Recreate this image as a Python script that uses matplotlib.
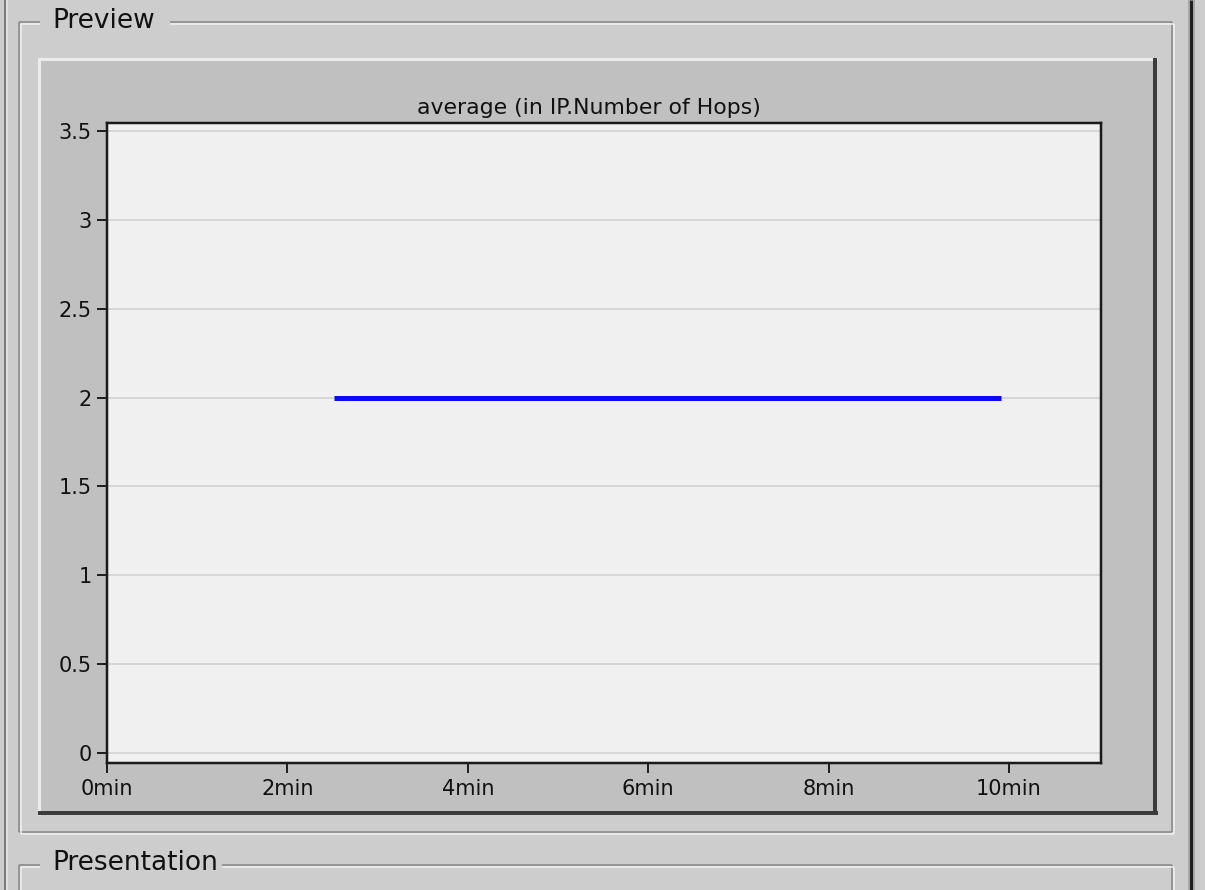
import matplotlib
matplotlib.use("Agg")
import matplotlib.pyplot as plt
from matplotlib.patches import Rectangle

# ---- data ----
title = "average (in IP.Number of Hops)"
x_ticks = [0, 2, 4, 6, 8, 10]
x_tick_labels = ["0min", "2min", "4min", "6min", "8min", "10min"]
y_ticks = [0, 0.5, 1, 1.5, 2, 2.5, 3, 3.5]
y_tick_labels = ["0", "0.5", "1", "1.5", "2", "2.5", "3", "3.5"]
time_min = [2.52, 9.91]
avg_hops = [2.0, 2.0]

W, H = 1205, 890
DPI = 100
PX = 72.0 / DPI  # points per pixel

plt.rcParams['font.family'] = ['DejaVu Sans']

fig = plt.figure(figsize=(W / DPI, H / DPI), dpi=DPI, facecolor="#cdcdcd")

# ---- GUI background drawing in pixel coords ----
bg = fig.add_axes([0, 0, 1, 1], zorder=-5)
bg.set_xlim(0, W)
bg.set_ylim(H, 0)
bg.axis("off")

def hline(x0, x1, y, color, w=1.5):
    bg.plot([x0, x1], [y, y], color=color, lw=w * PX, solid_capstyle="butt")

def vline(x, y0, y1, color, w=1.5):
    bg.plot([x, x], [y0, y1], color=color, lw=w * PX, solid_capstyle="butt")

dark_etch = "#848484"
light_etch = "#f2f2f2"

# left window edge
vline(5, 0, H, "#7a7a7a", 2)
vline(7, 0, H, "#e6e6e6", 1.5)

# thick right separator
vline(1191, 0, H, "#1e1e1e", 3)
vline(1188.5, 0, H, "#9a9a9a", 1.5)
vline(1194, 0, H, "#9a9a9a", 1.5)

# Preview group box (etched)
gx0, gy0, gx1, gy1 = 19, 22, 1172, 832
label_gap = (40, 170)
for off, col in ((0, dark_etch), (2, light_etch)):
    hline(gx0 + off, label_gap[0], gy0 + off, col)
    hline(label_gap[1], gx1 + off, gy0 + off, col)
    hline(gx0 + off, gx1 + off, gy1 + off, col)
    vline(gx0 + off, gy0 + off, gy1 + off, col)
    vline(gx1 + off, gy0 + off, gy1 + off, col)
bg.text(52, 21, "Preview", fontsize=19, color="#111111", va="center", ha="left")

# Presentation group box (top part only)
py0 = 865
pgap = (40, 222)
for off, col in ((0, dark_etch), (2, light_etch)):
    hline(gx0 + off, pgap[0], py0 + off, col)
    hline(pgap[1], gx1 + off, py0 + off, col)
    vline(gx0 + off, py0 + off, H, col)
    vline(gx1 + off, py0 + off, H, col)
bg.text(52, 863, "Presentation", fontsize=19, color="#111111", va="center", ha="left")

# raised chart panel
px0, py0p, px1, py1p = 38, 58, 1157, 815
bg.add_patch(Rectangle((px0, py0p), px1 - px0, py1p - py0p, facecolor="#c0c0c0", edgecolor="none"))
hline(px0, px1, py0p + 1, "#ececec", 3)
vline(px0 + 1, py0p, py1p, "#ececec", 3)
hline(px0, px1 + 1, py1p - 2, "#3c3c3c", 4)
vline(px1 - 2, py0p, py1p, "#3c3c3c", 4)

# ---- chart axes ----
ax_l, ax_t, ax_r, ax_b = 107, 123, 1101, 763
ax = fig.add_axes([ax_l / W, 1 - ax_b / H, (ax_r - ax_l) / W, (ax_b - ax_t) / H])
ax.set_facecolor("#f0f0f0")
ax.set_xlim(0, 11.02)
ax.set_ylim(-0.056, 3.545)

for yv in y_ticks:
    ax.axhline(yv, color="#d6d6d6", lw=2 * PX, zorder=1)

ax.plot(time_min, avg_hops, color="#0a0aff", lw=5 * PX, solid_capstyle="butt", zorder=3)

ax.set_xticks(x_ticks)
ax.set_xticklabels(x_tick_labels)
ax.set_yticks(y_ticks)
ax.set_yticklabels(y_tick_labels)
ax.tick_params(axis="both", direction="out", length=10 * PX, width=2 * PX,
               color="#202020", labelsize=15, labelcolor="#111111")
ax.tick_params(axis="x", pad=4)
ax.tick_params(axis="y", pad=4)
for s in ax.spines.values():
    s.set_linewidth(2.5 * PX)
    s.set_color("#1a1a1a")

fig.text(589 / W, 1 - 114 / H, title, ha="center", va="baseline", fontsize=15.8, color="#111111")

fig.savefig("out.png", dpi=DPI, facecolor=fig.get_facecolor())
